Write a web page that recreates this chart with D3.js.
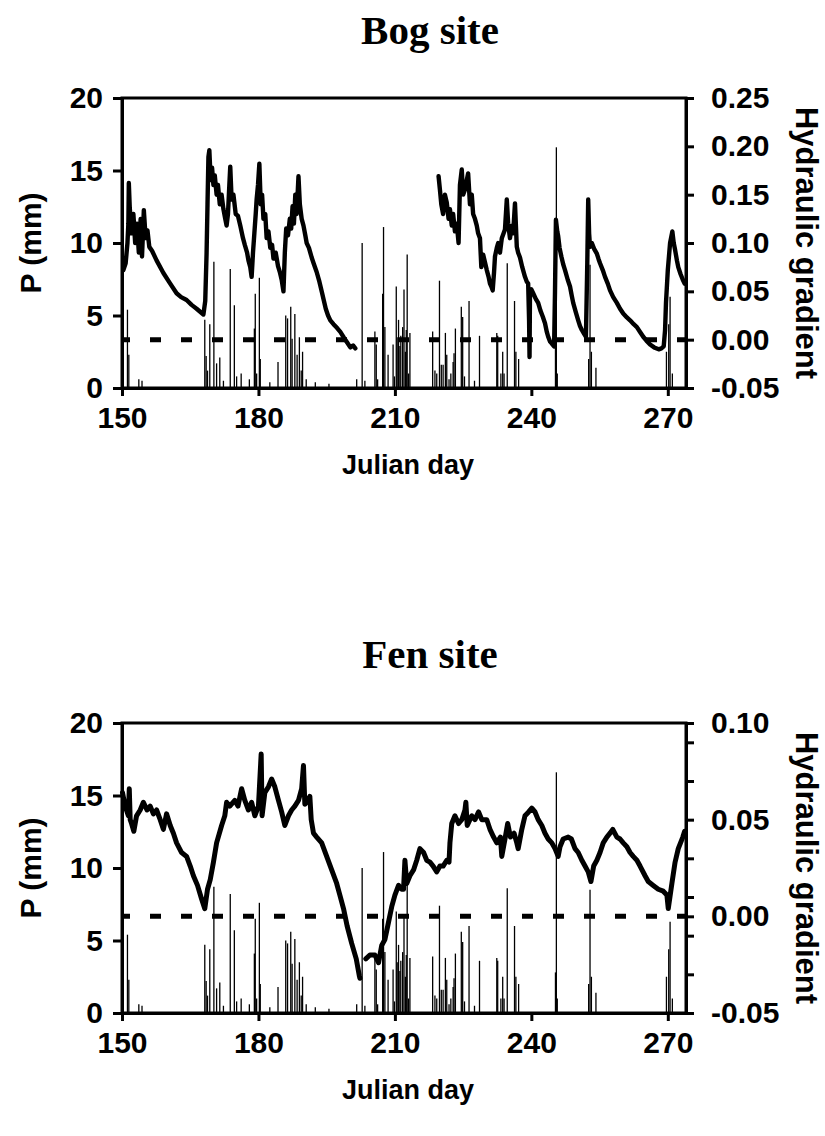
<!DOCTYPE html>
<html><head><meta charset="utf-8">
<script src="https://cdn.jsdelivr.net/npm/d3@7"></script>
<style>body{margin:0;background:#fff} svg{display:block}</style>
</head><body>
<svg id="c" width="825" height="1136"></svg>
<script>
// ---------- DATA ----------
const xTicks = [150, 180, 210, 240, 270];
const pTicks = [0, 5, 10, 15, 20];
const bogGradTicks = [-0.05, 0, 0.05, 0.10, 0.15, 0.20, 0.25];
const fenGradTicks = [-0.05, 0, 0.05, 0.10];
const fenGradMinorTicks = [-0.03, -0.01, 0.01, 0.03, 0.07, 0.09];

// precipitation [julian day, mm] (same gauge for both sites)
const precipitation = [
[151.2,5.4],[151.5,2.3],[153.7,0.6],[154.4,0.5],[168.2,4.7],[168.5,2.2],[168.8,1.2],[169.3,4.4],
[170.2,8.7],[170.8,1.7],[171.5,2.1],[172.3,0.5],[173.8,8.2],[174.7,5.7],[175.2,0.8],[176.2,1.0],
[178.0,0.6],[179.1,4.1],[179.3,6.5],[179.6,1.0],[180.2,7.6],[180.4,2.0],[182.5,0.4],[184.3,1.8],
[186.0,5.0],[186.4,4.8],[187.1,5.6],[187.4,3.4],[188.0,5.1],[188.5,2.3],[189.0,3.5],[189.4,1.2],
[189.7,2.5],[190.5,0.6],[192.5,0.4],[195.5,0.3],[201.6,0.6],[202.8,10.0],[203.4,0.5],[205.6,3.9],
[205.9,3.0],[206.2,0.6],[207.3,6.5],[207.5,11.1],[207.8,4.2],[208.5,2.3],[209.6,3.0],[209.9,0.8],
[210.3,7.0],[210.5,3.5],[210.8,4.7],[211.1,2.9],[211.3,3.6],[211.7,4.2],[212.0,6.8],[212.3,2.5],
[212.5,4.0],[212.7,9.2],[213.0,1.0],[213.3,3.8],[218.3,3.9],[218.8,1.2],[219.2,1.0],[219.8,7.4],
[220.2,1.6],[220.6,1.6],[221.1,3.8],[221.4,2.3],[221.9,0.6],[222.3,1.0],[222.8,1.8],[223.0,2.4],
[223.3,4.1],[224.6,5.6],[224.9,4.9],[225.3,0.8],[226.3,6.0],[227.5,0.5],[228.6,3.6],[232.4,3.8],
[232.6,3.6],[233.3,1.0],[233.7,2.5],[234.0,1.0],[234.7,8.6],[236.3,6.0],[236.6,2.5],[237.2,2.0],
[245.3,2.8],[245.5,16.6],[245.7,1.0],[252.6,2.0],[252.9,8.5],[253.2,2.5],[254.2,1.4],
[269.7,2.5],[270.2,4.4],[270.5,6.3],[271.0,1.0]
];

// bog hydraulic gradient [julian day, gradient]; null = gap in record
const bogGradient = [
[150.3,.072],[150.8,.079],[151.2,.100],[151.4,.120],[151.5,.162],[151.7,.137],[152.1,.110],[152.5,.130],
[152.9,.100],[153.3,.120],[153.7,.090],[154.1,.125],[154.4,.086],[154.8,.134],[155.2,.105],[155.6,.113],
[156.0,.096],[156.6,.092],[157.6,.082],[159.1,.069],[160.6,.058],[162.0,.048],[163.0,.044],[164.2,.041],
[165.3,.036],[166.4,.032],[167.9,.026],[168.3,.040],[168.6,.090],[168.8,.140],[169.0,.189],[169.2,.196],
[169.5,.165],[169.8,.178],[170.1,.160],[170.4,.170],[170.8,.150],[171.1,.160],[171.5,.140],[171.9,.150],
[172.3,.135],[172.7,.125],[173.0,.118],[173.3,.130],[173.6,.160],[173.8,.179],[174.1,.145],[174.5,.150],
[175.0,.130],[175.5,.128],[176.0,.118],[176.6,.105],[177.0,.098],[177.5,.090],[177.8,.082],[178.2,.075],
[178.5,.065],[178.8,.090],[179.1,.110],[179.4,.130],[179.6,.145],[179.9,.160],[180.2,.182],[180.5,.140],
[180.8,.150],[181.1,.125],[181.5,.130],[181.8,.105],[182.2,.112],[182.6,.095],[183.0,.098],[183.3,.084],
[183.8,.090],[184.3,.076],[184.7,.070],[185.1,.062],[185.5,.050],[185.8,.090],[186.1,.115],[186.5,.108],
[186.9,.125],[187.2,.115],[187.5,.138],[187.8,.120],[188.1,.150],[188.4,.130],[188.8,.169],[189.1,.140],
[189.5,.125],[189.9,.118],[190.3,.108],[190.6,.100],[191.1,.095],[191.7,.085],[192.2,.078],[192.8,.070],
[193.4,.060],[193.9,.050],[194.4,.040],[194.8,.032],[195.3,.025],[195.8,.020],[196.5,.016],[197.3,.012],
[198.0,.008],[198.8,.002],[199.5,-.003],[200.2,-.008],[200.8,-.006],[201.3,-.009],
[210.0,null],
[219.6,.169],[219.9,.155],[220.2,.140],[220.6,.130],[221.0,.150],[221.4,.142],[221.8,.125],[222.1,.135],
[222.5,.118],[222.8,.130],[223.2,.112],[223.6,.120],[224.0,.100],[224.3,.160],[224.7,.176],[225.0,.150],
[225.4,.155],[225.8,.165],[226.1,.172],[226.5,.140],[226.9,.150],[227.2,.130],[227.6,.125],[228.0,.118],
[228.3,.110],[228.7,.105],[229.0,.075],[229.4,.088],[229.8,.080],[230.2,.072],[230.6,.065],[230.9,.058],
[231.2,.055],[231.5,.051],[231.8,.070],[232.0,.086],[232.4,.095],[232.7,.100],[233.1,.090],[233.5,.105],
[233.9,.110],[234.2,.114],[234.6,.145],[234.9,.120],[235.3,.105],[235.7,.118],[236.0,.110],[236.4,.141],
[236.8,.096],[237.1,.090],[237.5,.085],[238.0,.075],[238.6,.065],[239.0,.060],[239.3,.058],[239.5,.020],
[239.6,-.018],[239.7,.050],[240.0,.052],[240.4,.048],[241.0,.042],[241.5,.038],[242.0,.030],[242.5,.024],
[243.0,.017],[243.4,.008],[243.7,.003],[244.1,-.002],[244.5,-.004],[245.0,-.007],[245.2,.050],[245.4,.124],
[245.7,.112],[245.9,.107],[246.2,.095],[246.6,.086],[247.0,.078],[247.4,.072],[248.0,.062],[248.5,.055],
[248.9,.045],[249.2,.038],[249.8,.028],[250.3,.020],[250.7,.014],[251.1,.010],[251.6,.006],[252.0,.003],
[252.3,.080],[252.5,.145],[252.7,.110],[252.9,.096],[253.3,.100],[253.8,.094],[254.4,.089],[254.8,.083],
[255.1,.079],[255.7,.072],[256.2,.065],[256.8,.058],[257.3,.051],[258.0,.044],[258.8,.038],[259.5,.032],
[260.2,.027],[261.0,.023],[261.7,.020],[262.5,.016],[263.2,.013],[263.9,.008],[264.6,.003],[265.3,-.001],
[266.1,-.005],[267.0,-.008],[268.0,-.010],[268.6,-.009],[269.1,-.007],[269.4,.010],[269.6,.038],[270.0,.072],
[270.5,.100],[271.0,.112],[271.3,.100],[271.6,.093],[272.0,.082],[272.3,.075],[272.8,.068],[273.3,.062],
[273.7,.058]
];

// fen hydraulic gradient [julian day, gradient]
const fenGradient = [
[150.1,.064],[150.7,.057],[151.4,.052],[151.6,.066],[151.8,.050],[152.1,.048],[152.6,.044],[153.2,.052],
[154.0,.055],[154.7,.059],[155.5,.055],[156.2,.057],[156.9,.053],[157.6,.055],[158.4,.050],[159.1,.045],
[159.8,.053],[160.6,.047],[161.3,.043],[162.0,.038],[163.1,.033],[164.2,.031],[165.0,.026],[165.7,.021],
[166.6,.016],[167.5,.009],[168.2,.004],[168.8,.014],[169.4,.019],[170.1,.028],[170.8,.038],[171.9,.047],
[172.6,.052],[173.0,.059],[173.7,.057],[174.8,.060],[175.5,.057],[176.3,.066],[177.0,.060],[177.8,.055],
[178.5,.059],[179.2,.052],[180.0,.057],[180.6,.084],[180.8,.052],[181.4,.064],[182.2,.067],[182.9,.071],
[183.6,.067],[184.4,.060],[185.1,.054],[185.8,.047],[186.6,.052],[187.3,.055],[188.0,.057],[188.8,.060],
[189.5,.066],[189.9,.078],[190.2,.058],[190.6,.059],[191.3,.062],[191.6,.050],[192.1,.043],[192.8,.041],
[193.9,.038],[195.0,.031],[196.1,.024],[197.2,.017],[197.9,.011],[198.7,.004],[199.5,-.005],[200.5,-.014],
[201.5,-.022],[202.2,-.031],[202.3,-.032],
[203.0,null],
[203.6,-.022],[204.5,-.020],[205.6,-.020],[206.4,-.024],[207.1,-.015],[207.8,-.012],[208.6,-.003],
[209.3,.005],[210.0,.011],[210.8,.016],[211.5,.014],[211.9,.014],[212.2,.029],[212.6,.017],[213.3,.021],
[214.1,.024],[214.8,.029],[215.5,.035],[216.3,.033],[217.0,.029],[217.7,.028],[218.4,.026],[219.2,.023],
[219.9,.026],[220.6,.026],[221.4,.029],[221.9,.028],[222.1,.038],[222.5,.048],[223.2,.052],[224.0,.048],
[224.7,.050],[225.4,.055],[225.6,.059],[225.9,.047],[226.9,.052],[227.6,.050],[228.4,.054],[229.1,.050],
[230.2,.050],[230.9,.045],[231.7,.041],[232.4,.038],[233.2,.041],[233.5,.031],[234.2,.040],[234.8,.048],
[235.4,.041],[236.2,.043],[236.8,.038],[237.1,.035],[237.9,.045],[238.6,.052],[239.4,.054],[240.1,.056],
[240.8,.054],[241.5,.050],[242.3,.047],[243.0,.043],[243.7,.040],[244.5,.038],[245.2,.035],[245.9,.031],
[246.3,.036],[247.0,.040],[248.1,.041],[248.8,.040],[249.6,.035],[250.3,.033],[251.1,.029],[251.8,.026],
[252.5,.023],[253.1,.018],[253.7,.026],[254.4,.029],[255.1,.033],[255.8,.038],[256.6,.041],[257.3,.043],
[257.9,.045],[258.8,.041],[259.5,.040],[260.2,.038],[261.0,.036],[261.7,.033],[262.4,.031],[263.2,.029],
[263.9,.026],[265.0,.021],[265.7,.018],[266.8,.016],[267.9,.014],[269.0,.013],[269.8,.011],[270.1,.004],
[270.9,.017],[271.6,.028],[272.3,.035],[273.3,.041],[273.7,.044]
];

// ---------- DRAWING ----------
const svg = d3.select("#c");
const SANS = "'Liberation Sans', Arial, Helvetica, sans-serif";
const SERIF = "'Liberation Serif', 'Times New Roman', serif";
const LEFT = 122, RIGHT = 686, H = 290;
const x = d3.scaleLinear().domain([150, 274]).range([LEFT, RIGHT]);
const fmt2 = d => d.toFixed(2);

function panel(o) {
  const top = o.top, bottom = top + H;
  const yP = d3.scaleLinear().domain([0, 20]).range([bottom, top]);
  const yG = d3.scaleLinear().domain(o.gradDomain).range([bottom, top]);
  const g = svg.append("g");

  g.append("text").attr("x", 430).attr("y", o.titleY).attr("text-anchor", "middle")
    .attr("font-family", SERIF).attr("font-weight", "bold").attr("font-size", 41).text(o.title);

  g.append("g").selectAll("line").data(precipitation).join("line")
    .attr("x1", d => x(d[0])).attr("x2", d => x(d[0]))
    .attr("y1", yP(0)).attr("y2", d => yP(d[1]))
    .attr("stroke", "#000").attr("stroke-width", 1.3);

  g.append("line").attr("x1", x(150)).attr("x2", x(274))
    .attr("y1", yG(0)).attr("y2", yG(0))
    .attr("stroke", "#000").attr("stroke-width", 5)
    .attr("stroke-dasharray", "11,20").attr("stroke-dashoffset", 3);

  const line = d3.line().defined(d => d[1] != null).x(d => x(d[0])).y(d => yG(d[1]));
  g.append("path").datum(o.series).attr("d", line)
    .attr("fill", "none").attr("stroke", "#000").attr("stroke-width", o.lw)
    .attr("stroke-linejoin", "round").attr("stroke-linecap", "round");

  g.append("rect").attr("x", LEFT).attr("y", top).attr("width", RIGHT - LEFT).attr("height", H)
    .attr("fill", "none").attr("stroke", "#000").attr("stroke-width", 3);

  function style(sel) {
    sel.select(".domain").attr("stroke-width", 3);
    sel.selectAll(".tick line").attr("stroke-width", 3);
    sel.selectAll(".tick text").attr("font-family", SANS).attr("font-weight", "bold")
      .attr("font-size", 30).attr("fill", "#000");
  }
  g.append("g").attr("transform", `translate(${LEFT},0)`)
    .call(d3.axisLeft(yP).tickValues(pTicks).tickSize(9).tickPadding(10).tickSizeOuter(0)).call(style);
  g.append("g").attr("transform", `translate(0,${bottom})`)
    .call(d3.axisBottom(x).tickValues(xTicks).tickSize(8).tickPadding(11).tickSizeOuter(0)).call(style);
  if (o.minor) {
    g.append("g").attr("transform", `translate(${RIGHT},0)`)
      .call(d3.axisRight(yG).tickValues(o.minor).tickSize(8).tickFormat("").tickSizeOuter(0)).call(style);
  }
  g.append("g").attr("transform", `translate(${RIGHT},0)`)
    .call(d3.axisRight(yG).tickValues(o.gradTicks).tickFormat(fmt2).tickSize(8).tickPadding(17).tickSizeOuter(0)).call(style);

  g.append("text").attr("x", (LEFT + RIGHT) / 2 + 4).attr("y", bottom + 86).attr("text-anchor", "middle")
    .attr("font-family", SANS).attr("font-weight", "bold").attr("font-size", 27).text("Julian day");
  g.append("text").attr("transform", `translate(41,${(top + bottom) / 2}) rotate(-90)`)
    .attr("text-anchor", "middle").attr("font-family", SANS).attr("font-weight", "bold")
    .attr("font-size", 30).text("P (mm)");
  g.append("text").attr("transform", `translate(796,${(top + bottom) / 2}) rotate(90)`)
    .attr("text-anchor", "middle").attr("font-family", SANS).attr("font-weight", "bold")
    .attr("font-size", 31).text("Hydraulic gradient");
}

panel({ top: 98, title: "Bog site", titleY: 44, gradDomain: [-0.05, 0.25], gradTicks: bogGradTicks, series: bogGradient, lw: 4.4 });
panel({ top: 723, title: "Fen site", titleY: 668, gradDomain: [-0.05, 0.10], gradTicks: fenGradTicks, minor: fenGradMinorTicks, series: fenGradient, lw: 5 });
</script></body></html>
